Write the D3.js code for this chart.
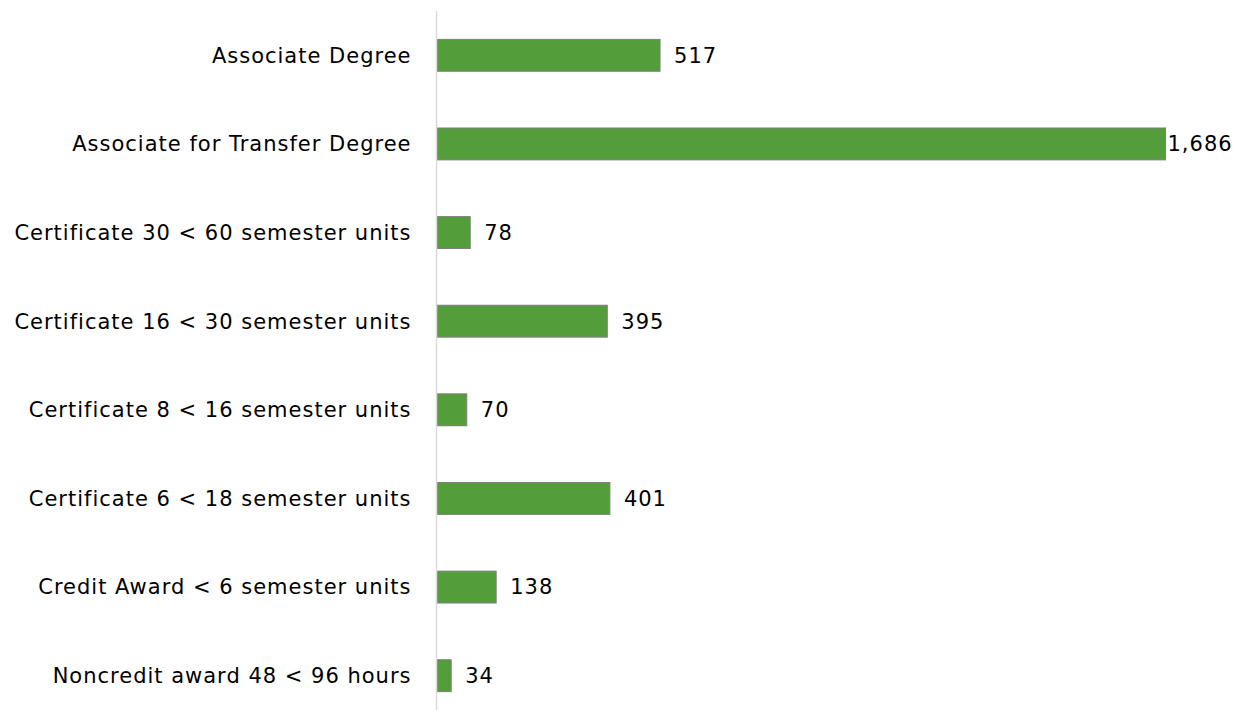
<!DOCTYPE html>
<html>
<head>
<meta charset="utf-8">
<script src="https://cdn.jsdelivr.net/npm/d3@7"></script>
<style>
  body { margin: 0; background: #fff; }
  svg text { font-family: "DejaVu Sans", sans-serif; fill: #000; letter-spacing: 1px; }
</style>
</head>
<body>
<svg id="chart"></svg>
<script>
// award types, top to bottom
var categories = [
  'Associate Degree',
  'Associate for Transfer Degree',
  'Certificate 30 < 60 semester units',
  'Certificate 16 < 30 semester units',
  'Certificate 8 < 16 semester units',
  'Certificate 6 < 18 semester units',
  'Credit Award < 6 semester units',
  'Noncredit award 48 < 96 hours'
];

// number of awards
var values = [517, 1686, 78, 395, 70, 401, 138, 34];

var width    = 1245,
    height   = 710,
    axisX    = 436.5,
    fontSize = 21,
    fmt      = d3.format(',');

var svg = d3.select('#chart')
  .attr('width', width)
  .attr('height', height);

var x = d3.scaleLinear()
  .domain([0, 1686])
  .range([axisX, 1165.5]);

var y = d3.scaleBand()
  .domain(categories)
  .range([11, 720])
  .paddingInner(0.64)
  .paddingOuter(0.32);

// bars
svg.append('g')
  .selectAll('rect')
  .data(values)
  .enter()
  .append('rect')
  .attr('x', x(0))
  .attr('y', function(d, i){ return y(categories[i]); })
  .attr('width', function(d){ return x(d) - x(0); })
  .attr('height', y.bandwidth())
  .style('fill', '#539d3b')
  .style('stroke', '#7f7f7f')
  .style('stroke-width', 1);

// vertical category axis line
svg.append('line')
  .attr('x1', axisX).attr('x2', axisX)
  .attr('y1', 11).attr('y2', height)
  .style('stroke', '#d9d9d9')
  .style('stroke-width', 1.5);

// category labels
svg.append('g')
  .selectAll('text')
  .data(categories)
  .enter()
  .append('text')
  .attr('x', axisX - 25)
  .attr('y', function(d){ return y(d) + y.bandwidth() / 2; })
  .attr('dy', '0.35em')
  .attr('text-anchor', 'end')
  .style('font-size', fontSize + 'px')
  .text(function(d){ return d; });

// value labels: pushed in from the right edge, but never over the bar
svg.append('g')
  .selectAll('text')
  .data(values)
  .enter()
  .append('text')
  .attr('y', function(d, i){ return y(categories[i]) + y.bandwidth() / 2; })
  .attr('dy', '0.35em')
  .style('font-size', fontSize + 'px')
  .text(function(d){ return fmt(d); })
  .attr('x', function(d){
    var w = this.getComputedTextLength();
    return Math.max(x(d) + 2, Math.min(x(d) + 14, width - 16 - w));
  });
</script>
</body>
</html>
